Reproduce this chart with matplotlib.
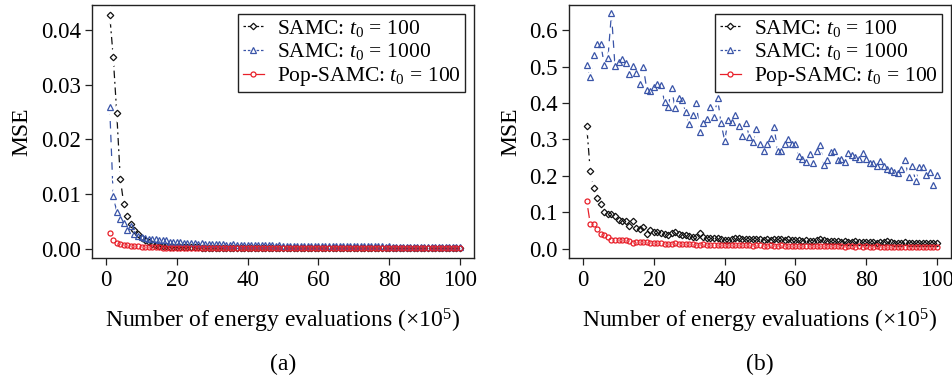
import numpy as np
import matplotlib
matplotlib.use("Agg")
import matplotlib.pyplot as plt
from matplotlib.lines import Line2D

plt.rcParams['font.family'] = ['Liberation Serif', 'DejaVu Serif']
plt.rcParams['mathtext.fontset'] = 'custom'
plt.rcParams['mathtext.rm'] = 'Liberation Serif'
plt.rcParams['mathtext.it'] = 'Liberation Serif:italic'

# ---------------- data ----------------
x_eval = np.arange(1, 101)

# panel (a)
a_samc100 = [0.0429, 0.0351, 0.0248, 0.0128, 0.0081, 0.0059, 0.0045, 0.0034, 0.0026, 0.0020,
             0.0016, 0.0012, 0.0009, 0.0007, 0.00055, 0.00045, 0.0004, 0.00035, 0.0003, 0.00028,
             0.00026, 0.00025, 0.00024, 0.00023, 0.00022, 0.00021, 0.0002, 0.0002, 0.00019, 0.00018,
             0.00018, 0.00017, 0.00017, 0.00016, 0.00016, 0.00015, 0.00015, 0.00015, 0.00014, 0.00014,
             0.00014, 0.00013, 0.00013, 0.00013, 0.00012, 0.00012, 0.00012, 0.00012, 0.00011, 0.00011,
             0.00011, 0.00011, 0.0001, 0.0001, 0.0001, 0.0001, 0.0001, 0.0001, 0.00009, 0.00009,
             0.00009, 0.00009, 0.00009, 0.00009, 0.00008, 0.00008, 0.00008, 0.00008, 0.00008, 0.00008,
             0.00008, 0.00007, 0.00007, 0.00007, 0.00007, 0.00007, 0.00007, 0.00007, 0.00007, 0.00006,
             0.00006, 0.00006, 0.00006, 0.00006, 0.00006, 0.00006, 0.00006, 0.00006, 0.00006, 0.00005,
             0.00005, 0.00005, 0.00005, 0.00005, 0.00005, 0.00005, 0.00005, 0.00005, 0.00005, 0.00005]
a_samc1000 = [0.0259, 0.0096, 0.0068, 0.0055, 0.0047, 0.0035, 0.0042, 0.0026, 0.0024, 0.0021,
              0.0019, 0.0017, 0.0018, 0.0017, 0.0016, 0.0015, 0.0015, 0.0013, 0.0013, 0.0012,
              0.0012, 0.0011, 0.0011, 0.0010, 0.0010, 0.0009, 0.0010, 0.0009, 0.0009, 0.0008,
              0.0008, 0.0008, 0.0008, 0.0007, 0.0007, 0.0008, 0.0007, 0.0007, 0.0007, 0.0006,
              0.0006, 0.0006, 0.0007, 0.0006, 0.0006, 0.0006, 0.0006, 0.0005, 0.0006, 0.0005,
              0.0005, 0.0005, 0.0005, 0.0005, 0.0005, 0.0005, 0.0005, 0.0005, 0.0005, 0.0005,
              0.0005, 0.0004, 0.0005, 0.0004, 0.0004, 0.0004, 0.0004, 0.0004, 0.0004, 0.0004,
              0.0004, 0.0004, 0.0004, 0.0004, 0.0004, 0.0004, 0.0004, 0.0004, 0.0003, 0.0004,
              0.0003, 0.0003, 0.0003, 0.0003, 0.0003, 0.0003, 0.0003, 0.0003, 0.0003, 0.0003,
              0.0003, 0.0003, 0.0003, 0.0003, 0.0003, 0.0003, 0.0003, 0.0003, 0.0003, 0.0003]
a_pop100 = [0.0029, 0.0015, 0.0010, 0.0008, 0.0007, 0.0006, 0.0005, 0.00045, 0.0004, 0.00035,
            0.0003, 0.0003, 0.00028, 0.00025, 0.00022, 0.0002, 0.0002, 0.00018, 0.00017, 0.00016,
            0.00015, 0.00015, 0.00014, 0.00014, 0.00013, 0.00013, 0.00012, 0.00012, 0.00011, 0.00011,
            0.0001, 0.0001, 0.0001, 0.0001, 0.00009, 0.00009, 0.00009, 0.00009, 0.00008, 0.00008,
            0.00008, 0.00008, 0.00008, 0.00007, 0.00007, 0.00007, 0.00007, 0.00007, 0.00007, 0.00006,
            0.00006, 0.00006, 0.00006, 0.00006, 0.00006, 0.00006, 0.00005, 0.00005, 0.00005, 0.00005,
            0.00005, 0.00005, 0.00005, 0.00005, 0.00005, 0.00005, 0.00004, 0.00004, 0.00004, 0.00004,
            0.00004, 0.00004, 0.00004, 0.00004, 0.00004, 0.00004, 0.00004, 0.00004, 0.00004, 0.00004,
            0.00003, 0.00003, 0.00003, 0.00003, 0.00003, 0.00003, 0.00003, 0.00003, 0.00003, 0.00003,
            0.00003, 0.00003, 0.00003, 0.00003, 0.00003, 0.00003, 0.00003, 0.00003, 0.00003, 0.00003]

# panel (b)
b_samc100 = [0.338, 0.214, 0.166, 0.138, 0.123, 0.101, 0.095, 0.095, 0.091, 0.079,
             0.075, 0.077, 0.061, 0.077, 0.057, 0.054, 0.059, 0.041, 0.051, 0.045,
             0.047, 0.042, 0.040, 0.039, 0.042, 0.045, 0.040, 0.039, 0.037, 0.036,
             0.033, 0.031, 0.042, 0.033, 0.030, 0.029, 0.030, 0.030, 0.028, 0.025,
             0.024, 0.027, 0.030, 0.029, 0.028, 0.027, 0.028, 0.027, 0.026, 0.026,
             0.025, 0.026, 0.025, 0.026, 0.027, 0.026, 0.023, 0.026, 0.024, 0.023,
             0.023, 0.022, 0.024, 0.022, 0.021, 0.023, 0.026, 0.024, 0.021, 0.020,
             0.022, 0.020, 0.019, 0.020, 0.019, 0.018, 0.020, 0.019, 0.018, 0.019,
             0.018, 0.019, 0.017, 0.018, 0.019, 0.020, 0.018, 0.017, 0.016, 0.017,
             0.018, 0.016, 0.017, 0.016, 0.017, 0.016, 0.015, 0.016, 0.015, 0.015]
b_samc1000 = [0.503, 0.471, 0.531, 0.562, 0.561, 0.503, 0.523, 0.646, 0.501, 0.513,
              0.522, 0.509, 0.479, 0.502, 0.481, 0.451, 0.499, 0.437, 0.434, 0.445,
              0.452, 0.449, 0.404, 0.388, 0.440, 0.385, 0.413, 0.407, 0.375, 0.342,
              0.367, 0.399, 0.320, 0.346, 0.356, 0.390, 0.361, 0.413, 0.344, 0.297,
              0.352, 0.349, 0.367, 0.338, 0.310, 0.344, 0.308, 0.294, 0.329, 0.287,
              0.268, 0.288, 0.303, 0.333, 0.267, 0.267, 0.288, 0.300, 0.287, 0.288,
              0.255, 0.246, 0.237, 0.260, 0.235, 0.267, 0.285, 0.230, 0.244, 0.265,
              0.268, 0.244, 0.246, 0.239, 0.262, 0.258, 0.253, 0.246, 0.262, 0.247,
              0.235, 0.235, 0.228, 0.242, 0.226, 0.218, 0.215, 0.210, 0.207, 0.219,
              0.244, 0.196, 0.227, 0.186, 0.224, 0.223, 0.203, 0.210, 0.175, 0.203]
b_pop100 = [0.132, 0.069, 0.068, 0.055, 0.041, 0.037, 0.032, 0.025, 0.025, 0.024,
            0.024, 0.023, 0.022, 0.016, 0.018, 0.019, 0.018, 0.018, 0.016, 0.017,
            0.016, 0.015, 0.013, 0.012, 0.014, 0.015, 0.013, 0.012, 0.013, 0.013,
            0.012, 0.010, 0.011, 0.012, 0.011, 0.010, 0.009, 0.010, 0.010, 0.010,
            0.009, 0.010, 0.009, 0.009, 0.010, 0.009, 0.009, 0.008, 0.009, 0.009,
            0.008, 0.008, 0.009, 0.008, 0.008, 0.009, 0.008, 0.008, 0.008, 0.007,
            0.007, 0.008, 0.007, 0.008, 0.007, 0.008, 0.007, 0.007, 0.007, 0.007,
            0.007, 0.007, 0.007, 0.006, 0.007, 0.007, 0.006, 0.007, 0.006, 0.007,
            0.006, 0.006, 0.007, 0.006, 0.006, 0.006, 0.006, 0.006, 0.006, 0.006,
            0.006, 0.005, 0.006, 0.006, 0.006, 0.005, 0.006, 0.006, 0.005, 0.006]

series_labels = [r'SAMC: $t_0\,=\,100$', r'SAMC: $t_0\,=\,1000$', r'Pop-SAMC: $t_0\,=\,100$']
a_yticks = [0.00, 0.01, 0.02, 0.03, 0.04]
a_yticklabels = ['0.00', '0.01', '0.02', '0.03', '0.04']
b_yticks = [0.0, 0.1, 0.2, 0.3, 0.4, 0.5, 0.6]
b_yticklabels = ['0.0', '0.1', '0.2', '0.3', '0.4', '0.5', '0.6']
x_ticks = [0, 20, 40, 60, 80, 100]
xlabel = r'Number of energy evaluations (×$10^5$)'
panel_names = ['(a)', '(b)']

# ---------------- style ----------------
colors = ['#111111', '#3a55a8', '#e8202a']
markers = ['D', '^', 'o']
msizes = [3.3, 4.6, 3.6]
dashes = [(1.5, 3.0, 6.0, 3.0), (6.0, 5.0), None]
FS_TICK = 16.5
FS_LAB = 17
FS_LEG = 15.5

fig = plt.figure(figsize=(9.53, 3.79), dpi=100)
axA = fig.add_axes([92/953, 1-258/379, 382/953, 253/379])
axB = fig.add_axes([569/953, 1-258/379, 382/953, 253/379])


def draw(ax, ys, ylim, yticks, yticklabels, name):
    ax.set_xlim(-4, 104)
    ax.set_ylim(*ylim)
    for y, c, d in zip(ys, colors, dashes):
        ln, = ax.plot(x_eval, y, color=c, lw=0.9, zorder=2)
        if d is not None:
            ln.set_dashes(d)
    # white halos create gaps in the lines around the points (R type="b")
    for y, m, ms in zip(ys, markers, msizes):
        ax.plot(x_eval, y, ls='none', marker=m, ms=ms + 6.0, mfc='white',
                mec='none', zorder=3)
    for y, c, m, ms in zip(ys, colors, markers, msizes):
        ax.plot(x_eval, y, ls='none', marker=m, ms=ms, mfc='none', mec=c,
                mew=0.9, zorder=4)
    ax.set_xticks(x_ticks)
    ax.set_xticklabels([str(t) for t in x_ticks])
    ax.set_yticks(yticks)
    ax.set_yticklabels(yticklabels)
    ax.tick_params(axis='both', direction='out', length=5, width=0.9,
                   labelsize=FS_TICK, color='#222222')
    ax.tick_params(axis='x', pad=4)
    ax.tick_params(axis='y', pad=3)
    for sp in ax.spines.values():
        sp.set_linewidth(1.0)
        sp.set_color('#222222')
    ax.set_ylabel('MSE', fontsize=FS_LAB, labelpad=6)
    ax.set_xlabel(xlabel, fontsize=FS_LAB, labelpad=11)
    handles = []
    for c, m, ms, d in zip(colors, markers, msizes, dashes):
        h = Line2D([0], [0], color=c, lw=0.9, marker=m, ms=ms, mfc='white',
                   mec=c, mew=0.9)
        if d is not None:
            h.set_dashes((2.0, 1.5))
        handles.append(h)
    leg = ax.legend(handles, series_labels, loc='upper right', fontsize=FS_LEG,
                    frameon=True, fancybox=False, edgecolor='#222222',
                    framealpha=1, handlelength=1.0, handletextpad=0.6,
                    labelspacing=0.12, borderpad=0.2, borderaxespad=0.4)
    leg.get_frame().set_linewidth(1.0)
    pos = ax.get_position()
    fig.text((pos.x0 + pos.x1) / 2, 1 - 364/379, name, ha='center', va='center',
             fontsize=FS_LAB)


draw(axA, [a_samc100, a_samc1000, a_pop100], (-0.00172, 0.04465),
     a_yticks, a_yticklabels, panel_names[0])
draw(axB, [b_samc100, b_samc1000, b_pop100], (-0.0255, 0.669),
     b_yticks, b_yticklabels, panel_names[1])

fig.savefig('out.png', dpi=100)
